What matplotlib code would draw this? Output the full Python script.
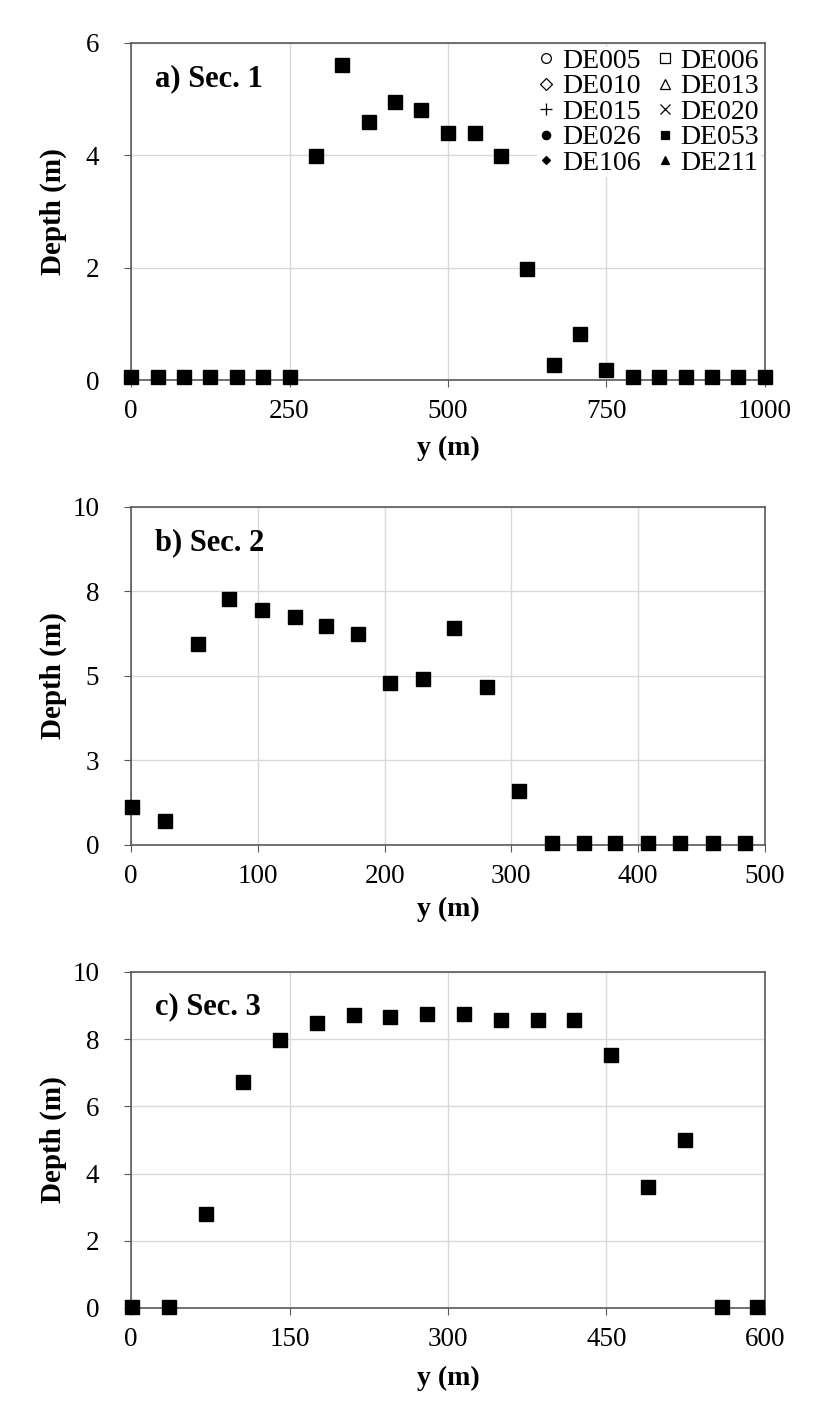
import matplotlib
matplotlib.use("Agg")
import matplotlib.pyplot as plt

plt.rcParams['font.family'] = ['Liberation Serif', 'DejaVu Serif']

# Section 1 (DE053)
y_sec1 = [0, 42, 83, 125, 167, 208, 250, 292, 333, 375, 417, 458, 500,
          542, 583, 625, 667, 708, 750, 792, 833, 875, 917, 958, 1000]
d_sec1 = [0.06, 0.06, 0.06, 0.06, 0.06, 0.06, 0.06, 3.99, 5.60, 4.60, 4.95,
          4.81, 4.40, 4.40, 3.99, 1.98, 0.27, 0.82, 0.18, 0.06, 0.06, 0.06,
          0.06, 0.06, 0.06]

# Section 2 (DE053)
y_sec2 = [1, 27, 53, 77, 103, 129, 154, 179, 204, 230, 255, 281, 306, 332,
          357, 382, 408, 433, 459, 484]
d_sec2 = [1.11, 0.71, 5.96, 7.29, 6.95, 6.73, 6.47, 6.24, 4.80, 4.90, 6.42,
          4.68, 1.61, 0.07, 0.07, 0.07, 0.07, 0.07, 0.07, 0.07]

# Section 3 (DE053)
y_sec3 = [1, 36, 71, 106, 141, 176, 211, 245, 280, 315, 350, 385, 419, 454,
          489, 524, 559, 593]
d_sec3 = [0.03, 0.03, 2.80, 6.73, 7.97, 8.49, 8.73, 8.66, 8.74, 8.76, 8.58,
          8.58, 8.58, 7.54, 3.61, 5.00, 0.03, 0.03]

# gauges and their legend markers (column-wise order for ncol=2)
gauges = ['DE005', 'DE010', 'DE015', 'DE026', 'DE106',
          'DE006', 'DE013', 'DE020', 'DE053', 'DE211']
gauge_markers = [('o', 'none'), ('D', 'none'), ('+', 'k'), ('o', 'k'), ('D', 'k'),
                 ('s', 'none'), ('^', 'none'), ('x', 'k'), ('s', 'k'), ('^', 'k')]
gauge_sizes = [7, 6, 9, 6, 4, 7, 7, 7, 6, 6]

panels = [
    dict(label='a) Sec. 1', x=y_sec1, d=d_sec1, xlim=(0, 1000), xticks=[0, 250, 500, 750, 1000],
         ylim=(0, 6), yticks=[0, 2, 4, 6], yticklabels=['0', '2', '4', '6'],
         rect=[0.157, 0.7303, 0.759, 0.2392], xlab_y=-0.165),
    dict(label='b) Sec. 2', x=y_sec2, d=d_sec2, xlim=(0, 500), xticks=[0, 100, 200, 300, 400, 500],
         ylim=(0, 10), yticks=[0, 2.5, 5, 7.5, 10], yticklabels=['0', '3', '5', '8', '10'],
         rect=[0.157, 0.4003, 0.759, 0.2399], xlab_y=-0.152),
    dict(label='c) Sec. 3', x=y_sec3, d=d_sec3, xlim=(0, 600), xticks=[0, 150, 300, 450, 600],
         ylim=(0, 10), yticks=[0, 2, 4, 6, 8, 10], yticklabels=['0', '2', '4', '6', '8', '10'],
         rect=[0.157, 0.0717, 0.759, 0.2385], xlab_y=-0.172),
]

fig = plt.figure(figsize=(8.35, 14.09), dpi=100)

for i, p in enumerate(panels):
    ax = fig.add_axes(p['rect'])
    ax.plot(p['x'], p['d'], linestyle='none', marker='s', markersize=10,
            color='black', clip_on=False, zorder=5)
    ax.set_xlim(*p['xlim'])
    ax.set_ylim(*p['ylim'])
    ax.set_xticks(p['xticks'])
    ax.set_yticks(p['yticks'])
    ax.set_yticklabels(p['yticklabels'])
    ax.grid(True, color='#d9d9d9', linewidth=1)
    ax.set_axisbelow(True)
    for s in ax.spines.values():
        s.set_color('#595959')
        s.set_linewidth(1.2)
    ax.tick_params(axis='both', direction='out', length=5, color='#595959',
                   labelsize=19.5)
    ax.tick_params(axis='y', pad=18)
    ax.tick_params(axis='x', pad=9)
    ax.set_xlabel('y (m)', fontsize=20, fontweight='bold')
    ax.set_ylabel('Depth (m)', fontsize=21, fontweight='bold')
    ax.xaxis.set_label_coords(0.5, p['xlab_y'])
    ax.yaxis.set_label_coords(-0.101, 0.5)
    ax.text(0.038, 0.895, p['label'], transform=ax.transAxes, fontsize=22,
            fontweight='bold', va='center', ha='left')

    if i == 0:
        handles = []
        for name, (m, fc), ms in zip(gauges, gauge_markers, gauge_sizes):
            h, = ax.plot([], [], linestyle='none', marker=m, markersize=ms,
                         markerfacecolor=fc, markeredgecolor='k',
                         markeredgewidth=0.9, label=name)
            handles.append(h)
        ax.legend(handles=handles, ncol=2, loc='upper right', frameon=True,
                  edgecolor='none', facecolor='white', framealpha=1,
                  fontsize=20, handlelength=0.6, handletextpad=0.25,
                  columnspacing=0.6, labelspacing=0.0, borderpad=0.05,
                  borderaxespad=0.15)

fig.savefig('out.png', dpi=100)
